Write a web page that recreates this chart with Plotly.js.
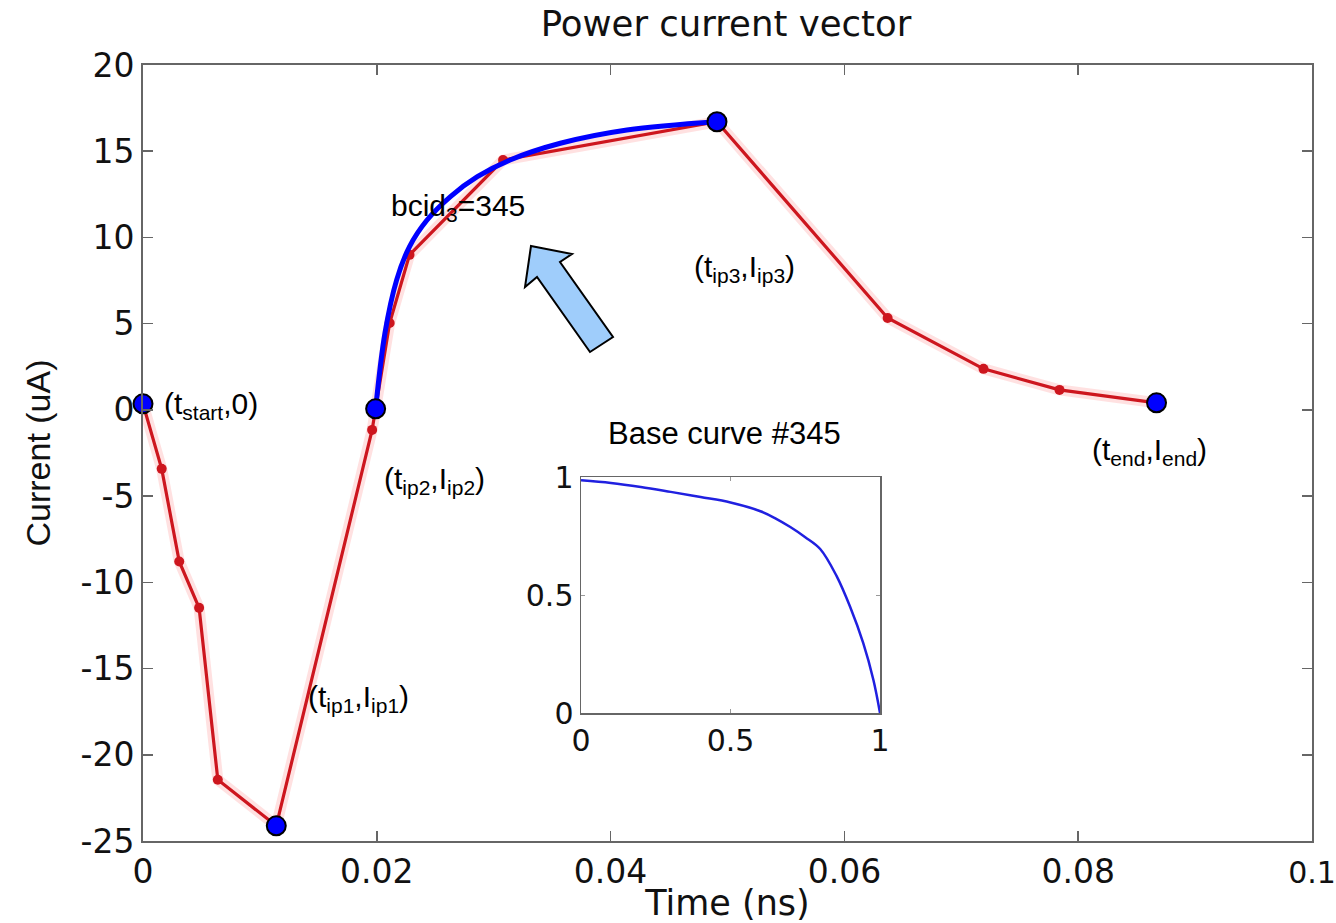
<!DOCTYPE html>
<html>
<head>
<meta charset="utf-8">
<script src="https://cdn.plot.ly/plotly-3.0.1.min.js"></script>
<style>html,body{margin:0;padding:0;background:#fff;}#chart{width:1336px;height:923px;}</style>
</head>
<body>
<div id="chart"></div>
<script>
// ---- data ----
// red power-current vector (all sample points)
const vecTime = [0, 0.0016, 0.0031, 0.0048, 0.0064, 0.0114, 0.0196, 0.0199, 0.0211, 0.0228, 0.0308, 0.0491, 0.0637, 0.0719, 0.0784, 0.0867];
const vecCurrent = [0.35, -3.42, -8.79, -11.48, -21.45, -24.12, -1.16, 0.06, 5.04, 8.99, 14.49, 16.71, 5.33, 2.38, 1.16, 0.41];
// key (inflection) points shown as blue circles
const keyTime = [0, 0.0114, 0.0199, 0.0491, 0.0867];
const keyCurrent = [0.35, -24.12, 0.06, 16.71, 0.41];
const keyLabels = ["(t<sub>start</sub>,0)", "(t<sub>ip1</sub>,I<sub>ip1</sub>)", "(t<sub>ip2</sub>,I<sub>ip2</sub>)", "(t<sub>ip3</sub>,I<sub>ip3</sub>)", "(t<sub>end</sub>,I<sub>end</sub>)"];
// fitted base curve segment (blue) between ip2 and ip3
const fitTime = [0.0199, 0.0207, 0.0217, 0.0228, 0.0243, 0.0263, 0.0286, 0.0314, 0.0357, 0.0414, 0.0491];
const fitCurrent = [0.06, 4.46, 7.54, 9.47, 11.01, 12.37, 13.52, 14.49, 15.46, 16.23, 16.71];
// inset: base curve #345
const baseX = [0, 0.1, 0.2, 0.3, 0.4, 0.5, 0.6, 0.65, 0.7, 0.75, 0.8, 0.855, 0.9, 0.944, 0.978, 1.0];
const baseY = [0.986, 0.975, 0.958, 0.937, 0.915, 0.892, 0.855, 0.825, 0.788, 0.745, 0.695, 0.58, 0.45, 0.296, 0.14, 0.0];
// tick labels
const xTickVals = [0, 0.02, 0.04, 0.06, 0.08, 0.1];
const xTickText = ["0", "0.02", "0.04", "0.06", "0.08", "<span style=\"font-size:30px\">0.1</span>"];
const yTickVals = [-25, -20, -15, -10, -5, 0, 5, 10, 15, 20];
const yTickText = ["-25", "-20", "-15", "-10", "-5", "0", "5", "10", "15", "20"];
const insetTickVals = [0, 0.5, 1];
const insetTickText = ["0", "0.5", "1"];

// ---- layout geometry ----
const W = 1336, H = 923;
const M = {l: 143, r: 24, t: 65, b: 82};
const xRange = [0, 0.1], yRange = [-25, 20];
const pw = W - M.l - M.r, ph = H - M.t - M.b;
function px2x(px) { return xRange[0] + (px - M.l) / pw * (xRange[1] - xRange[0]); }
function py2y(py) { return yRange[1] - (py - M.t) / ph * (yRange[1] - yRange[0]); }

const red = 'rgb(205,22,30)';
const axisFont = {family: 'DejaVu Sans, sans-serif', size: 33, color: '#111'};
const labelFont = {family: 'Liberation Sans, Arial, sans-serif', size: 30, color: '#000'};

const traces = [
  {x: vecTime, y: vecCurrent, mode: 'lines', line: {color: 'rgba(255,40,40,0.14)', width: 11}, hoverinfo: 'skip', showlegend: false, cliponaxis: false},
  {x: vecTime, y: vecCurrent, mode: 'lines+markers', line: {color: red, width: 3.2}, marker: {color: red, size: 10}, showlegend: false, cliponaxis: false},
  {x: fitTime, y: fitCurrent, mode: 'lines', line: {color: '#0000ff', width: 5, shape: 'spline'}, showlegend: false, cliponaxis: false},
  {x: keyTime, y: keyCurrent, mode: 'markers', marker: {color: '#0000ff', size: 19, line: {color: '#000', width: 2}}, showlegend: false, cliponaxis: false},
  {x: baseX, y: baseY, xaxis: 'x2', yaxis: 'y2', mode: 'lines', line: {color: '#2020e0', width: 2.5, shape: 'spline'}, showlegend: false, cliponaxis: false}
];

// arrow outline (pixel vertices converted to data coordinates)
const arrowPx = [[531, 246], [572, 254], [560, 262], [613, 337], [590, 352], [537, 277], [525, 287]];
const arrowPath = 'M ' + arrowPx.map(p => px2x(p[0]) + ',' + py2y(p[1])).join(' L ') + ' Z';

// label positions (pixels: left edge, vertical centre)
const labelPx = [[162, 405], [306, 698], [382, 480], [692, 268], [1090, 451]];
const annotations = keyLabels.map((t, i) => ({
  x: px2x(labelPx[i][0]), y: py2y(labelPx[i][1]), xref: 'x', yref: 'y',
  text: t, showarrow: false, xanchor: 'left', yanchor: 'middle', font: labelFont
}));
annotations.push({x: px2x(389), y: py2y(207), xref: 'x', yref: 'y', text: 'bcid<sub>3</sub>=345', showarrow: false, xanchor: 'left', yanchor: 'middle', font: {family: 'Liberation Sans, Arial, sans-serif', size: 30, color: '#000'}});

const insetDomX = [(581 - M.l) / pw, (880 - M.l) / pw];
const insetDomY = [(H - M.b - 713) / ph, (H - M.b - 477) / ph];

const layout = {
  width: W, height: H,
  margin: M,
  paper_bgcolor: '#fff', plot_bgcolor: '#fff',
  title: {text: 'Power current vector', font: {family: 'DejaVu Sans, sans-serif', size: 35.5, color: '#111'}, x: (726) / W, xref: 'container', xanchor: 'center', y: 1 - 24 / H, yref: 'container', yanchor: 'middle'},
  xaxis: {range: xRange, tickvals: xTickVals, ticktext: xTickText, tickfont: axisFont, ticklabeloverflow: 'allow',
    showgrid: false, zeroline: false, showline: true, linecolor: '#666', linewidth: 2, mirror: 'ticks',
    ticks: 'inside', ticklen: 10, tickcolor: '#666', tickwidth: 1.5,
    title: {text: 'Time (ns)', font: {family: 'DejaVu Sans, sans-serif', size: 35, color: '#111'}, standoff: 2}, automargin: false},
  yaxis: {range: yRange, tickvals: yTickVals, ticktext: yTickText, tickfont: axisFont, ticklabeloverflow: 'allow',
    showgrid: false, zeroline: false, showline: true, linecolor: '#666', linewidth: 2, mirror: 'ticks',
    ticks: 'inside', ticklen: 10, tickcolor: '#666', tickwidth: 1.5,
    title: {text: 'Current (uA)', font: {family: 'Liberation Sans, Arial, sans-serif', size: 34, color: '#111'}, standoff: 20}, automargin: false},
  xaxis2: {domain: insetDomX, anchor: 'y2', range: [0, 1], tickvals: insetTickVals, ticktext: insetTickText,
    tickfont: {family: 'DejaVu Sans, sans-serif', size: 30, color: '#111'}, ticklabeloverflow: 'allow',
    showgrid: false, zeroline: false, showline: true, linecolor: '#666', linewidth: 1.5, mirror: 'ticks',
    ticks: 'inside', ticklen: 4, tickcolor: '#999'},
  yaxis2: {domain: insetDomY, anchor: 'x2', range: [0, 1], tickvals: insetTickVals, ticktext: insetTickText,
    tickfont: {family: 'DejaVu Sans, sans-serif', size: 30, color: '#111'}, ticklabeloverflow: 'allow',
    showgrid: false, zeroline: false, showline: true, linecolor: '#666', linewidth: 1.5, mirror: 'ticks',
    ticks: 'inside', ticklen: 4, tickcolor: '#999'},
  shapes: [{type: 'path', xref: 'x', yref: 'y', path: arrowPath, fillcolor: '#9fcdfb', line: {color: '#000', width: 2}, layer: 'above'}],
  annotations: annotations.concat([{
    x: (insetDomX[0] + insetDomX[1]) / 2 + (724 - 730.5) / pw, y: insetDomY[1], xref: 'paper', yref: 'paper',
    yshift: 44, text: 'Base curve #345', showarrow: false, xanchor: 'center', yanchor: 'middle',
    font: {family: 'Liberation Sans, Arial, sans-serif', size: 31, color: '#000'}
  }])
};

Plotly.newPlot('chart', traces, layout, {displayModeBar: false, staticPlot: true});
</script>
</body>
</html>
